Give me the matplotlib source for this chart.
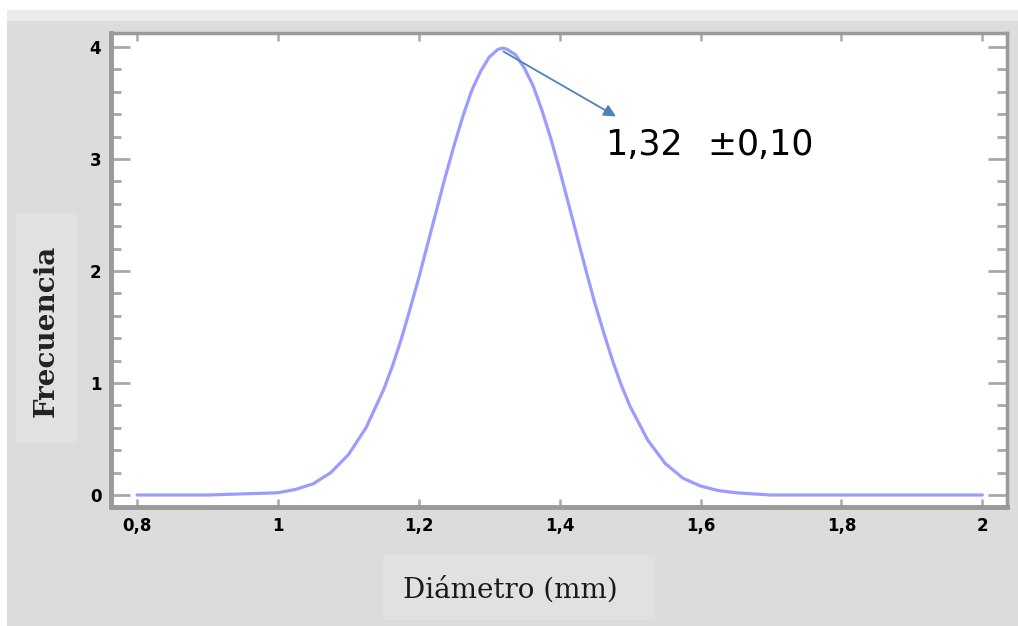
import matplotlib
matplotlib.use('Agg')
import matplotlib.pyplot as plt
from matplotlib.ticker import FixedLocator, MultipleLocator
from matplotlib.patches import Rectangle

# Values
diametro = [0.80, 0.90, 1.00, 1.025, 1.05, 1.075, 1.10, 1.125, 1.15, 1.1625,
            1.175, 1.1875, 1.20, 1.2125, 1.225, 1.2375, 1.25, 1.2625, 1.275, 1.2875,
            1.30, 1.3125, 1.32, 1.325, 1.3375, 1.35, 1.3625, 1.375, 1.3875, 1.40,
            1.4125, 1.425, 1.4375, 1.45, 1.4625, 1.475, 1.4875, 1.50, 1.525, 1.55,
            1.575, 1.60, 1.625, 1.65, 1.70, 1.80, 2.00]
frecuencia = [0.00, 0.00, 0.02, 0.05, 0.10, 0.20, 0.36, 0.60, 0.94, 1.15,
              1.39, 1.66, 1.94, 2.24, 2.54, 2.84, 3.12, 3.38, 3.61, 3.78,
              3.91, 3.98, 3.99, 3.98, 3.93, 3.81, 3.65, 3.43, 3.18, 2.90,
              2.60, 2.30, 2.00, 1.71, 1.45, 1.20, 0.98, 0.79, 0.49, 0.28,
              0.15, 0.08, 0.04, 0.02, 0.00, 0.00, 0.00]

x_ticks = [0.8, 1.0, 1.2, 1.4, 1.6, 1.8, 2.0]
x_labels = ['0,8', '1', '1,2', '1,4', '1,6', '1,8', '2']
y_ticks = [0, 1, 2, 3, 4]
y_labels = ['0', '1', '2', '3', '4']

media_txt = '1,32'
signo_txt = '\u00b1'
desv_txt = '0,10'

fig = plt.figure(figsize=(10.18, 6.26), dpi=100, facecolor='#dcdcdc')

# white border strips and light band at the top
fig.patches.append(Rectangle((0, 0.984), 1, 0.016, transform=fig.transFigure,
                             facecolor='white', edgecolor='none', zorder=0))
fig.patches.append(Rectangle((0, 0.966), 1, 0.018, transform=fig.transFigure,
                             facecolor='#ebebeb', edgecolor='none', zorder=0))
fig.patches.append(Rectangle((0, 0), 0.007, 1, transform=fig.transFigure,
                             facecolor='white', edgecolor='none', zorder=0))

ax = fig.add_axes([111 / 1018, 1 - 507 / 626, 896 / 1018, 474 / 626])
ax.set_facecolor('white')

ax.plot(diametro, frecuencia, color='#9c9cff', linewidth=2.3,
        solid_capstyle='round', solid_joinstyle='round')

# arrow pointing at the peak
pico = max(frecuencia)
ax.annotate('', xy=(1.480, 3.38), xytext=(diametro[frecuencia.index(pico)], pico - 0.03),
            arrowprops=dict(arrowstyle='-|>', color='#4f81bd', lw=1.3,
                            mutation_scale=18, shrinkA=0, shrinkB=0))
ax.text(1.464, 3.036, media_txt, fontsize=25, color='black', ha='left', va='baseline')
ax.text(1.630, 3.036, signo_txt, fontsize=25, color='black', ha='center', va='baseline')
ax.text(1.652, 3.036, desv_txt, fontsize=25, color='black', ha='left', va='baseline')

ax.set_xlim(0.763, 2.035)
ax.set_ylim(-0.107, 4.125)

ax.xaxis.set_major_locator(FixedLocator(x_ticks))
ax.set_xticklabels(x_labels)
ax.yaxis.set_major_locator(FixedLocator(y_ticks))
ax.set_yticklabels(y_labels)
ax.yaxis.set_minor_locator(MultipleLocator(0.2))

ax.tick_params(axis='x', which='major', direction='in', length=6, width=1.8,
               color='#a8a8a8', top=True, bottom=True, pad=7, labelsize=12)
ax.tick_params(axis='y', which='major', direction='in', length=14, width=2,
               color='#a8a8a8', left=True, right=True, pad=7, labelsize=12)
ax.tick_params(axis='y', which='minor', direction='in', length=7, width=2,
               color='#a8a8a8', left=True, right=True)
for lab in ax.get_xticklabels() + ax.get_yticklabels():
    lab.set_fontweight('bold')

for side, w in [('left', 3.5), ('bottom', 3.5), ('top', 2.5), ('right', 2.5)]:
    ax.spines[side].set_linewidth(w)
    ax.spines[side].set_color('#9a9a9a')

# axis titles with their faint boxes
fig.patches.append(Rectangle((16 / 1018, 1 - 443 / 626), 61 / 1018, 230 / 626,
                             transform=fig.transFigure, facecolor='#e1e1e1',
                             edgecolor='none', zorder=0))
fig.patches.append(Rectangle((383 / 1018, 1 - 620 / 626), 272 / 1018, 65 / 626,
                             transform=fig.transFigure, facecolor='#e1e1e1',
                             edgecolor='none', zorder=0))
fig.text(46 / 1018, 1 - 331 / 626, 'Frecuencia', rotation=90, ha='center', va='center',
         fontsize=20, fontweight='bold', family='DejaVu Serif', color='#222222')
fig.text(510 / 1018, 1 - 590 / 626, 'Diámetro (mm)', ha='center', va='center',
         fontsize=20, family='DejaVu Serif', color='#1a1a1a')

fig.savefig('out.png', dpi=100, facecolor=fig.get_facecolor())
